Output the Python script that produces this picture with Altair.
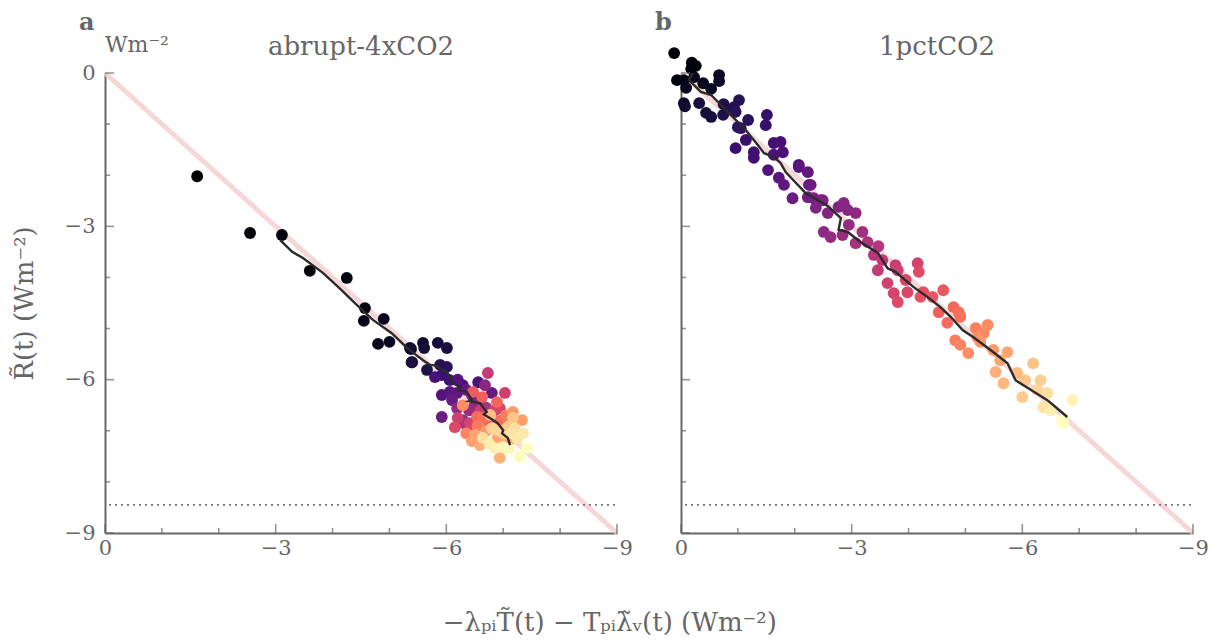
import altair as alt
import pandas as pd

FONT = "DejaVu Serif"
GRAY = "#666666"

# ---------------- panel a: abrupt-4xCO2 ----------------
a_x = [-1.62, -2.55, -3.11, -3.60, -4.25, -4.57, -4.55, -4.90, -4.80, -5.00, -5.38, -5.39,
       -5.36, -5.59, -5.61, -5.85, -6.01, -5.40, -5.66, -5.89, -6.01,
       -5.92, -6.06, -6.56, -6.29, -5.92, -6.06, -6.19, -6.80, -5.92, -6.20, -6.35, -6.45, -6.10, -6.60, -5.80,
       -6.68, -6.19, -6.29, -6.50, -6.40, -6.70, -6.30,
       -6.73, -7.03, -6.41, -6.94, -6.15, -6.60, -6.85, -6.45, -6.20,
       -6.47, -6.63, -6.89, -6.54, -6.64, -6.75, -6.95, -6.55, -7.05, -6.35,
       -6.29, -7.17, -7.33, -6.50, -6.59, -6.94, -6.70, -6.90, -7.10, -6.45,
       -6.77, -7.17, -7.08, -6.80, -6.91, -6.64, -7.15, -7.35, -6.85, -6.99, -7.42, -7.29,
       -7.00, -7.20, -6.75, -7.10, -7.25]
a_y = [-2.02, -3.13, -3.17, -3.87, -4.01, -4.60, -4.85, -4.81, -5.30, -5.26, -5.40, -5.66,
       -5.38, -5.28, -5.38, -5.28, -5.38, -5.66, -5.81, -5.71, -5.75,
       -5.91, -6.01, -6.05, -6.11, -6.30, -6.24, -6.26, -6.26, -6.73, -6.00, -6.20, -6.30, -6.40, -6.40, -5.95,
       -6.11, -6.56, -6.79, -6.50, -6.60, -6.55, -6.85,
       -5.87, -6.26, -6.85, -6.56, -6.93, -6.60, -6.60, -6.95, -6.75,
       -6.24, -6.34, -6.44, -6.73, -6.75, -6.85, -6.80, -6.90, -6.70, -7.05,
       -6.50, -6.63, -6.79, -7.08, -7.28, -7.53, -7.00, -7.15, -7.20, -7.20,
       -6.69, -6.75, -6.93, -6.95, -6.99, -7.14, -7.05, -7.05, -7.34, -7.32, -7.34, -7.51,
       -7.05, -6.95, -7.25, -7.35, -7.15]
a_year = [1, 2, 3, 4, 5, 6, 7, 8, 9, 10, 11, 12,
          14, 15, 16, 17, 18, 19, 20, 22, 24,
          30, 34, 36, 38, 40, 42, 44, 46, 48, 40, 45, 50, 48, 52, 35,
          60, 62, 64, 60, 65, 70, 72,
          80, 84, 86, 88, 90, 82, 86, 88, 84,
          98, 100, 102, 104, 106, 100, 105, 108, 110, 112,
          115, 118, 120, 122, 124, 126, 118, 122, 125, 120,
          130, 132, 134, 136, 138, 140, 142, 144, 146, 148, 150, 149,
          135, 140, 145, 148, 143]

a_line_x = [-3.08, -3.29, -3.48, -3.83, -4.13, -4.43, -4.71, -5.04, -5.31, -5.45, -5.59, -5.71,
            -5.80, -6.01, -6.08, -6.12, -6.25, -6.22, -6.36, -6.45, -6.40, -6.59, -6.71, -6.66,
            -6.82, -6.90, -7.00, -6.98, -7.08, -7.12]
a_line_y = [-3.27, -3.50, -3.62, -3.91, -4.22, -4.54, -4.83, -5.09, -5.38, -5.50, -5.62, -5.71,
            -5.72, -5.85, -5.98, -6.07, -6.15, -6.20, -6.24, -6.40, -6.42, -6.46, -6.63, -6.68,
            -6.79, -6.85, -6.99, -7.05, -7.14, -7.28]

# ---------------- panel b: 1pctCO2 ----------------
b_x = [0.12, -0.19, -0.26, -0.18, 0.07, -0.05, -0.23, -0.39, -0.09, -0.53, -0.67, -0.67,
       -0.05, -0.07, -0.32, -0.44, -0.53, -0.75, -0.74, -0.88, -0.93, -1.02, -0.96, -1.18,
       -1.00, -1.05, -1.51, -1.49, -1.14, -0.96, -1.28, -1.28, -1.63, -1.75, -1.79, -1.63,
       -1.53, -1.72, -1.81, -2.07, -2.23, -2.28, -1.96, -2.23, -2.33, -2.46, -2.86,
       -2.07, -2.25, -2.49, -2.37, -2.58, -2.77, -2.86, -2.93, -3.07, -2.95, -2.51, -2.63,
       -2.84, -3.19, -3.07, -3.28, -3.47, -3.39, -3.54, -3.46, -3.77, -3.81, -3.95, -3.63,
       -3.74, -3.81, -3.98, -4.16, -4.18, -4.26, -4.21, -4.42, -4.61, -4.53, -4.68, -4.79,
       -4.88, -4.91, -4.82, -4.91, -5.05, -5.18, -5.32, -5.39, -5.21, -5.26, -5.49, -5.74,
       -5.61, -5.53, -5.67, -5.91, -6.05, -6.19, -6.32, -6.00, -6.26, -6.44, -6.37, -6.49,
       -6.88, -6.70, -6.72]
b_y = [0.39, 0.20, 0.14, 0.08, -0.14, -0.14, -0.08, -0.20, -0.29, -0.31, -0.04, -0.16,
       -0.59, -0.65, -0.59, -0.78, -0.86, -0.61, -0.82, -0.72, -0.67, -0.53, -0.76, -0.92,
       -1.06, -1.08, -0.82, -1.02, -1.31, -1.47, -1.55, -1.66, -1.37, -1.35, -1.55, -1.60,
       -1.90, -2.05, -2.19, -1.84, -1.94, -2.19, -2.45, -2.43, -2.45, -2.49, -2.58,
       -1.80, -2.19, -2.49, -2.64, -2.74, -2.62, -2.54, -2.68, -2.74, -2.97, -3.11, -3.21,
       -3.17, -3.11, -3.33, -3.31, -3.39, -3.56, -3.66, -3.86, -3.76, -3.86, -4.05, -4.11,
       -4.31, -4.48, -4.29, -3.72, -3.89, -4.29, -4.38, -4.38, -4.25, -4.68, -4.89, -4.58,
       -4.68, -4.77, -5.23, -5.32, -5.48, -4.99, -5.09, -4.93, -5.17, -5.26, -5.42, -5.46,
       -5.62, -5.85, -6.07, -5.87, -6.01, -5.68, -6.01, -6.34, -6.20, -6.26, -6.54, -6.60,
       -6.40, -6.79, -6.85]
b_year = [1, 2, 3, 4, 5, 6, 7, 8, 9, 10, 11, 12,
          13, 14, 18, 16, 17, 19, 20, 21, 22, 23, 24, 25,
          26, 27, 28, 29, 30, 31, 32, 33, 34, 35, 37, 36,
          38, 41, 44, 42, 45, 48, 47, 50, 52, 54, 58,
          40, 46, 53, 55, 57, 56, 59, 60, 62, 64, 61, 63,
          65, 68, 70, 72, 75, 76, 79, 80, 82, 84, 88, 85,
          87, 90, 89, 86, 91, 93, 94, 96, 97, 100, 104, 102,
          105, 106, 110, 112, 115, 111, 113, 114, 116, 117, 119, 122,
          123, 125, 128, 129, 132, 131, 135, 134, 137, 140, 142, 145,
          147, 149, 150]

b_line_x = [-0.21, -0.14, -0.35, -0.53, -0.75, -0.91, -1.14, -1.35, -1.46, -1.63, -1.75, -1.84,
            -2.19, -2.58, -2.81, -2.77, -2.93, -3.16, -3.46, -3.63, -3.77, -4.09, -4.33, -4.56,
            -4.74, -4.95, -5.14, -5.44, -5.74, -5.88, -6.09, -6.44, -6.61, -6.79]
b_line_y = [0.00, -0.14, -0.37, -0.43, -0.68, -0.86, -1.12, -1.41, -1.57, -1.64, -1.76, -1.94,
            -2.35, -2.60, -2.84, -3.07, -3.11, -3.31, -3.52, -3.82, -3.89, -4.19, -4.38, -4.58,
            -4.77, -5.03, -5.17, -5.42, -5.68, -6.01, -6.16, -6.40, -6.56, -6.73]

axis_vals = [0, -3, -6, -9]
major_ticks = [0, -3, -6, -9]
minor_ticks = [-1, -2, -4, -5, -7, -8]
diag_vals = [0, -9]
floor_level = -8.45

W, H = 512, 460


def panel(xs, ys, years, lx, ly, name, letter, first):
    pts = pd.DataFrame({"x": xs, "y": ys, "year": years})
    ln = pd.DataFrame({"x": lx, "y": ly, "i": list(range(len(lx)))})
    diag = pd.DataFrame({"x": diag_vals, "y": diag_vals})
    xs_ = alt.Scale(domain=[0, -9], nice=False, zero=False)
    ys_ = alt.Scale(domain=[-9, 0], nice=False, zero=False)
    xaxis = alt.Axis(values=axis_vals, format="d", ticks=False, grid=False, domainColor=GRAY,
                     domainWidth=2, labelFont=FONT, labelFontSize=21, labelColor=GRAY,
                     labelPadding=4, title=None, labelFlush=False)
    if first:
        yaxis = alt.Axis(values=axis_vals, format="d", ticks=False, grid=False, domainColor=GRAY,
                         domainWidth=2, labelFont=FONT, labelFontSize=21, labelColor=GRAY,
                         labelPadding=10,
                         title="R\u0303(t) (Wm\u207b\u00b2)", titleFont=FONT, titleFontSize=26,
                         titleColor=GRAY, titleFontWeight="normal", titlePadding=27,
                         labelFlush=False)
    else:
        yaxis = alt.Axis(values=axis_vals, ticks=False, grid=False, domainColor=GRAY, domainWidth=2,
                         labels=False, title=None)

    base_x = alt.X("x:Q", scale=xs_, axis=xaxis)
    base_y = alt.Y("y:Q", scale=ys_, axis=yaxis)

    diag_l = alt.Chart(diag).mark_line(color="#f4cccc", strokeWidth=5, opacity=0.8).encode(
        x=base_x, y=base_y)
    floor = alt.Chart(pd.DataFrame({"y": [floor_level]})).mark_rule(
        color="#777777", strokeDash=[2, 4], strokeWidth=1.6).encode(
        y=alt.Y("y:Q", scale=ys_), x=alt.value(4), x2=alt.value(W))
    dots = alt.Chart(pts).mark_circle(size=140, opacity=1).encode(
        x=alt.X("x:Q", scale=xs_), y=alt.Y("y:Q", scale=ys_),
        color=alt.Color("year:Q", scale=alt.Scale(scheme="magma", domain=[1, 150]), legend=None),
        order=alt.Order("year:Q"))
    line = alt.Chart(ln).mark_line(color="#2b2b2b", strokeWidth=2.4).encode(
        x=alt.X("x:Q", scale=xs_), y=alt.Y("y:Q", scale=ys_), order="i:Q")

    tick_style = dict(color=GRAY, thickness=1.6)
    xt_major = alt.Chart(pd.DataFrame({"v": major_ticks})).mark_tick(
        size=9, **tick_style).encode(x=alt.X("v:Q", scale=xs_), y=alt.value(H - 4.5))
    xt_minor = alt.Chart(pd.DataFrame({"v": minor_ticks})).mark_tick(
        size=5, **tick_style).encode(x=alt.X("v:Q", scale=xs_), y=alt.value(H - 2.5))
    yt_major = alt.Chart(pd.DataFrame({"v": major_ticks})).mark_tick(
        size=9, **tick_style).encode(y=alt.Y("v:Q", scale=ys_), x=alt.value(4.5))
    yt_minor = alt.Chart(pd.DataFrame({"v": minor_ticks})).mark_tick(
        size=5, **tick_style).encode(y=alt.Y("v:Q", scale=ys_), x=alt.value(2.5))

    title_t = alt.Chart(pd.DataFrame({"t": [name]})).mark_text(
        font=FONT, fontSize=26, color=GRAY, align="center", baseline="alphabetic").encode(
        text="t:N", x=alt.value(W / 2), y=alt.value(-18))
    letter_t = alt.Chart(pd.DataFrame({"t": [letter]})).mark_text(
        font=FONT, fontSize=24, fontWeight="bold", color=GRAY, align="left",
        baseline="alphabetic").encode(text="t:N", x=alt.value(-26), y=alt.value(-43))

    layers = [diag_l, floor, dots, line, xt_major, xt_minor, yt_major, yt_minor, title_t, letter_t]
    if first:
        unit_t = alt.Chart(pd.DataFrame({"t": ["Wm\u207b\u00b2"]})).mark_text(
            font=FONT, fontSize=22, color=GRAY, align="left", baseline="alphabetic").encode(
            text="t:N", x=alt.value(0), y=alt.value(-21))
        layers.append(unit_t)
    return alt.layer(*layers).properties(width=W, height=H)


pa = panel(a_x, a_y, a_year, a_line_x, a_line_y, "abrupt-4xCO2", "a", True)
pb = panel(b_x, b_y, b_year, b_line_x, b_line_y, "1pctCO2", "b", False)

chart = alt.hconcat(pa, pb, spacing=22).properties(
    title=alt.TitleParams(
        "\u2212\u03bb\u209a\u1d62T\u0303(t) \u2212 T\u209a\u1d62\u03bb\u0303\u1d65(t) (Wm\u207b\u00b2)",
        orient="bottom", anchor="middle", font=FONT, fontSize=26, color=GRAY,
        fontWeight="normal", offset=52),
    padding={"left": 3, "top": 3, "right": 5, "bottom": 0},
    background="white",
).configure_view(strokeWidth=0)

chart.save("out.html", embed_options={"renderer": "svg", "actions": False})
